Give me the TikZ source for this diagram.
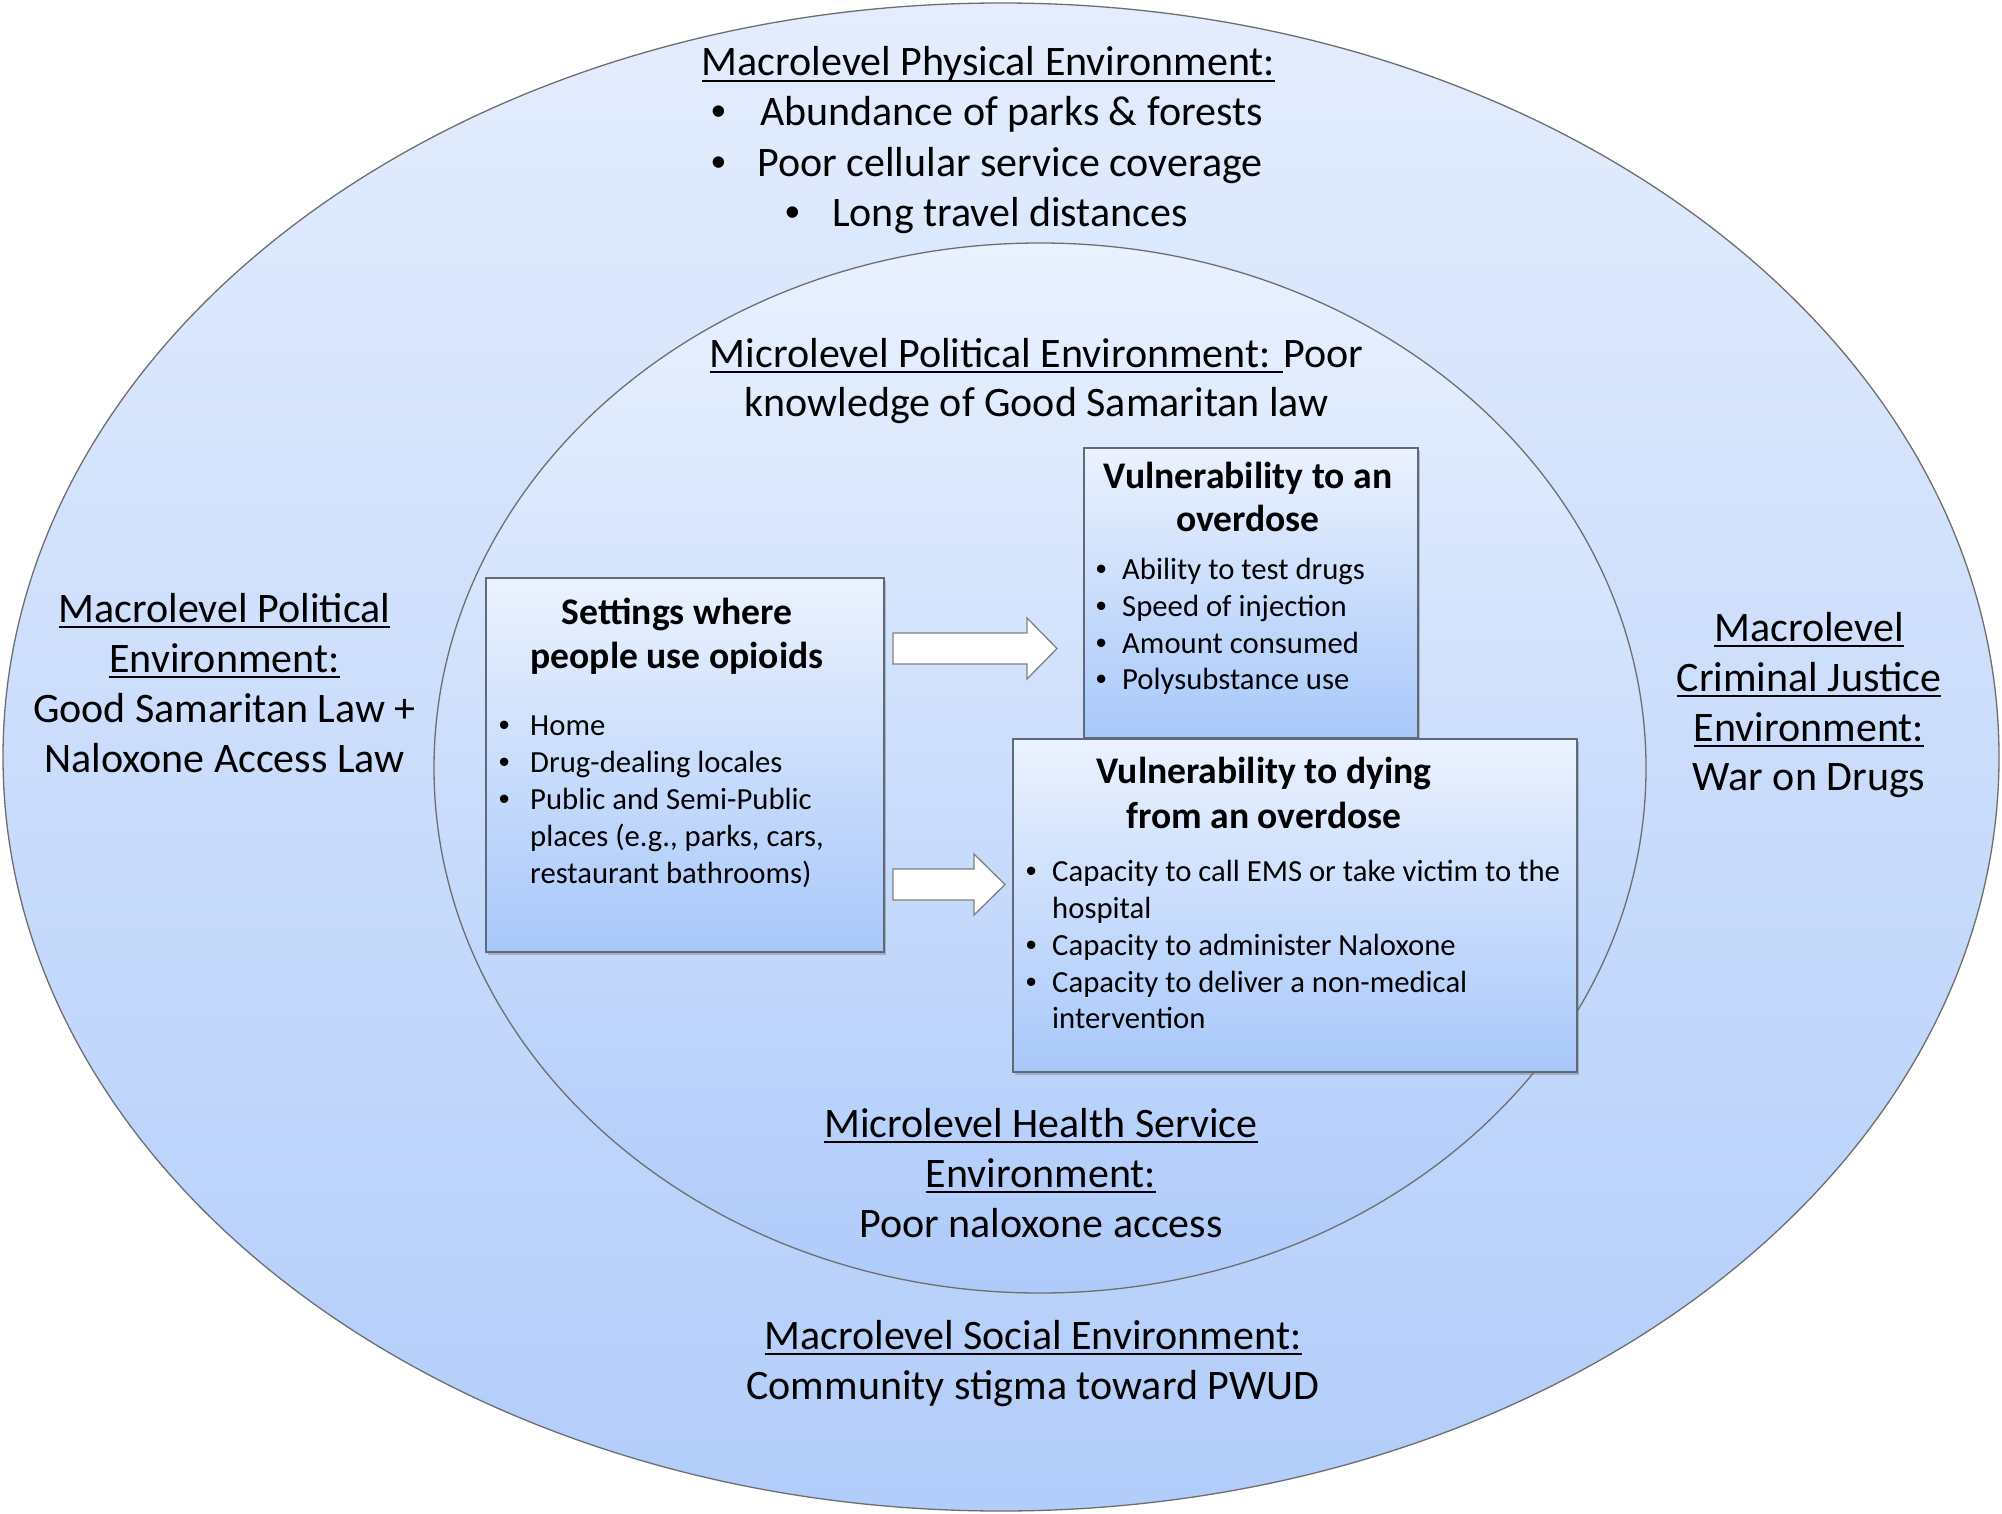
\documentclass[tikz,border=0pt]{standalone}
\usepackage{fontspec}
\setmainfont{Carlito}
\newfontfamily\bulfont{Liberation Sans}
\usetikzlibrary{shapes.geometric,shadows}
\definecolor{outTop}{RGB}{228,237,253}
\definecolor{outBot}{RGB}{178,205,250}
\definecolor{inTop}{RGB}{233,241,254}
\definecolor{inBot}{RGB}{175,203,250}
\definecolor{boxTop}{RGB}{235,242,254}
\definecolor{boxBot}{RGB}{168,200,250}
\definecolor{ellLine}{RGB}{110,110,110}
\definecolor{boxLine}{RGB}{95,105,120}
\definecolor{arrLine}{RGB}{128,128,128}
\newcommand\myul[1]{\leavevmode\setbox0=\hbox{#1}\rlap{\rule[-0.145em]{\wd0}{0.06em}}\box0}
\newcommand\bul[1]{\llap{\makebox[#1][c]{\bulfont •}}}
\begin{document}
\begin{tikzpicture}[x=1pt,y=-1pt,
  ell/.style={ellipse, draw=ellLine, line width=1.3pt, inner sep=0pt, outer sep=0pt},
  boxnode/.style={draw=boxLine, line width=1.5pt, top color=boxTop, bottom color=boxBot,
     anchor=north west, inner sep=0pt, outer sep=0pt,
     drop shadow={shadow xshift=1.5pt, shadow yshift=-2.5pt, opacity=0.35, fill=black!60}},
  barrow/.style={draw=arrLine, line width=1.3pt, fill=white, line join=miter},
  maintxt/.style={font=\fontsize{42}{50}\selectfont, anchor=base, inner sep=0pt},
  btitle/.style={font=\bfseries\fontsize{37.6}{44}\selectfont, anchor=base, inner sep=0pt},
  bitem/.style={font=\fontsize{30.7}{37}\selectfont, anchor=base west, inner sep=0pt}]
\useasboundingbox (0,0) rectangle (2002,1514);
\fill[white] (0,0) rectangle (2002,1514);
% ellipses
\node[ell, top color=outTop, bottom color=outBot, minimum width=1996pt, minimum height=1508pt] (outer) at (1001,757) {};
\node[ell, top color=inTop, bottom color=inBot, minimum width=1212pt, minimum height=1050pt] (inner) at (1040,768) {};
% boxes
\node[boxnode, minimum width=398pt, minimum height=374pt] (settings) at (486,578) {};
\node[boxnode, minimum width=334pt, minimum height=290pt] (vod) at (1084,448) {};
\node[boxnode, minimum width=564pt, minimum height=333pt] (vdy) at (1013,739) {};
% block arrows
\coordinate (a1) at (893,648.5);
\coordinate (a2) at (893,884.5);
\draw[barrow] (a1) ++(0,-15.5) -- ++(134,0) -- ++(0,-15) -- ++(30,30.5) -- ++(-30,30.5) -- ++(0,-15) -- ++(-134,0) -- cycle;
\draw[barrow] (a2) ++(0,-15.5) -- ++(81,0) -- ++(0,-15) -- ++(31,30.5) -- ++(-31,30.5) -- ++(0,-15) -- ++(-81,0) -- cycle;
% top block
\node[maintxt] (pt0) at (988.5,76) {\myul{Macrolevel Physical Environment:}};
\node[maintxt, anchor=base west] (pt1) at (760,126) {\bul{82pt}Abundance of parks \& forests};
\node[maintxt, anchor=base west] (pt2) at (757,177) {\bul{76pt}Poor cellular service coverage};
\node[maintxt, anchor=base west] (pt3) at (832,227) {\bul{78pt}Long travel distances};
% left block
\node[maintxt] (pl0) at (224.5,622) {\myul{Macrolevel Political}};
\node[maintxt] (pl1) at (224.5,672) {\myul{Environment:}};
\node[maintxt] (pl2) at (224.5,722) {Good Samaritan Law +};
\node[maintxt] (pl3) at (224.5,772) {Naloxone Access Law};
% right block
\node[maintxt] (cj0) at (1809,641) {\myul{Macrolevel}};
\node[maintxt] (cj1) at (1809,691) {\myul{Criminal Justice}};
\node[maintxt] (cj2) at (1809,741) {\myul{Environment:}};
\node[maintxt] (cj3) at (1809,790) {War on Drugs};
% inner top
\node[maintxt] (mp0) at (1036.6,367) {\myul{Microlevel Political Environment: }Poor};
\node[maintxt] (mp1) at (1036.6,416) {knowledge of Good Samaritan law};
% inner bottom
\node[maintxt] (mh0) at (1041,1137) {\myul{Microlevel Health Service}};
\node[maintxt] (mh1) at (1041,1187) {\myul{Environment:}};
\node[maintxt] (mh2) at (1041,1237) {Poor naloxone access};
% bottom
\node[maintxt] (ms0) at (1033,1349) {\myul{Macrolevel Social Environment:}};
\node[maintxt] (ms1) at (1033,1399) {Community stigma toward PWUD};
% settings box text
\node[btitle] (st0) at (677,624.5) {Settings where};
\node[btitle] (st1) at (677,668) {people use opioids};
\node[bitem] (si0) at (530,735) {\bul{52pt}Home};
\node[bitem] (si1) at (530,772) {\bul{52pt}Drug-dealing locales};
\node[bitem] (si2) at (530,809) {\bul{52pt}Public and Semi-Public};
\node[bitem] (si3) at (530,846) {places (e.g., parks, cars,};
\node[bitem] (si4) at (530,883) {restaurant bathrooms)};
% vulnerability to an overdose
\node[btitle] (vt0) at (1248,488) {Vulnerability to an};
\node[btitle] (vt1) at (1248,531.5) {overdose};
\node[bitem] (vi0) at (1122,579) {\bul{42pt}Ability to test drugs};
\node[bitem] (vi1) at (1122,616) {\bul{42pt}Speed of injection};
\node[bitem] (vi2) at (1122,653) {\bul{42pt}Amount consumed};
\node[bitem] (vi3) at (1122,689) {\bul{42pt}Polysubstance use};
% vulnerability to dying
\node[btitle] (dt0) at (1264,783) {Vulnerability to dying};
\node[btitle] (dt1) at (1264,828) {from an overdose};
\node[bitem] (di0) at (1052,881) {\bul{42pt}Capacity to call EMS or take victim to the};
\node[bitem] (di1) at (1052,918) {hospital};
\node[bitem] (di2) at (1052,955) {\bul{42pt}Capacity to administer Naloxone};
\node[bitem] (di3) at (1052,992) {\bul{42pt}Capacity to deliver a non-medical};
\node[bitem] (di4) at (1052,1028) {intervention};
\end{tikzpicture}
\end{document}
